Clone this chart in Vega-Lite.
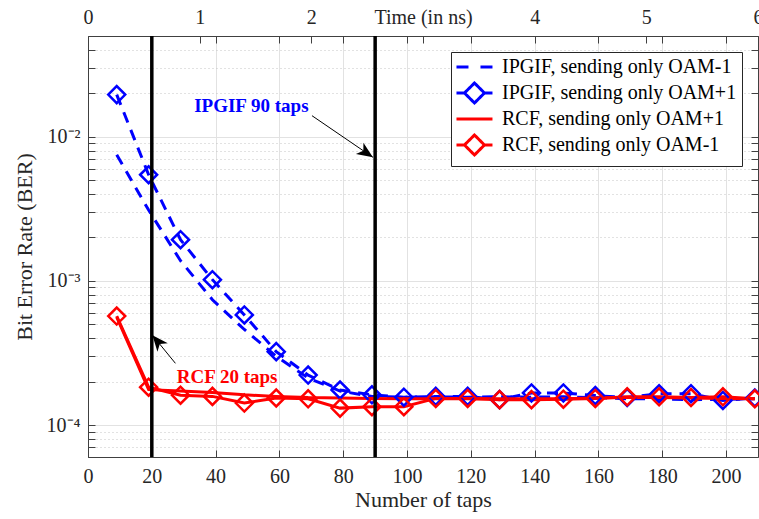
{
  "$schema": "https://vega.github.io/schema/vega-lite/v6.json",
  "width": 670,
  "height": 421,
  "autosize": {"type": "none"},
  "padding": {"left": 88, "top": 36, "right": 1, "bottom": 62},
  "background": "white",
  "config": {
    "view": {"stroke": null},
    "font": "Liberation Serif",
    "axis": {
      "labelFont": "Liberation Serif",
      "titleFont": "Liberation Serif",
      "labelColor": "#262626",
      "titleColor": "#262626",
      "titleFontWeight": "normal",
      "domainColor": "#404040",
      "tickColor": "#404040",
      "domainWidth": 1,
      "tickWidth": 1
    }
  },
  "datasets": {
    "curves": [
      {"taps": 9, "ber": 0.0075, "series": "IPGIF, sending only OAM-1"},
      {"taps": 19, "ber": 0.0031, "series": "IPGIF, sending only OAM-1"},
      {"taps": 29, "ber": 0.00138, "series": "IPGIF, sending only OAM-1"},
      {"taps": 39, "ber": 0.00074, "series": "IPGIF, sending only OAM-1"},
      {"taps": 49, "ber": 0.00046, "series": "IPGIF, sending only OAM-1"},
      {"taps": 59, "ber": 0.0003, "series": "IPGIF, sending only OAM-1"},
      {"taps": 69, "ber": 0.000212, "series": "IPGIF, sending only OAM-1"},
      {"taps": 79, "ber": 0.000172, "series": "IPGIF, sending only OAM-1"},
      {"taps": 89, "ber": 0.000158, "series": "IPGIF, sending only OAM-1"},
      {"taps": 99, "ber": 0.000156, "series": "IPGIF, sending only OAM-1"},
      {"taps": 109, "ber": 0.000157, "series": "IPGIF, sending only OAM-1"},
      {"taps": 119, "ber": 0.000156, "series": "IPGIF, sending only OAM-1"},
      {"taps": 129, "ber": 0.000157, "series": "IPGIF, sending only OAM-1"},
      {"taps": 139, "ber": 0.000156, "series": "IPGIF, sending only OAM-1"},
      {"taps": 149, "ber": 0.000157, "series": "IPGIF, sending only OAM-1"},
      {"taps": 159, "ber": 0.000155, "series": "IPGIF, sending only OAM-1"},
      {"taps": 169, "ber": 0.000152, "series": "IPGIF, sending only OAM-1"},
      {"taps": 179, "ber": 0.000152, "series": "IPGIF, sending only OAM-1"},
      {"taps": 189, "ber": 0.00015, "series": "IPGIF, sending only OAM-1"},
      {"taps": 199, "ber": 0.000151, "series": "IPGIF, sending only OAM-1"},
      {"taps": 209, "ber": 0.000152, "series": "IPGIF, sending only OAM-1"},
      {"taps": 9, "ber": 0.0196, "series": "IPGIF, sending only OAM+1"},
      {"taps": 19, "ber": 0.00545, "series": "IPGIF, sending only OAM+1"},
      {"taps": 29, "ber": 0.00193, "series": "IPGIF, sending only OAM+1"},
      {"taps": 39, "ber": 0.00102, "series": "IPGIF, sending only OAM+1"},
      {"taps": 49, "ber": 0.00058, "series": "IPGIF, sending only OAM+1"},
      {"taps": 59, "ber": 0.000323, "series": "IPGIF, sending only OAM+1"},
      {"taps": 69, "ber": 0.000222, "series": "IPGIF, sending only OAM+1"},
      {"taps": 79, "ber": 0.000175, "series": "IPGIF, sending only OAM+1"},
      {"taps": 89, "ber": 0.000162, "series": "IPGIF, sending only OAM+1"},
      {"taps": 99, "ber": 0.000156, "series": "IPGIF, sending only OAM+1"},
      {"taps": 109, "ber": 0.000158, "series": "IPGIF, sending only OAM+1"},
      {"taps": 119, "ber": 0.000158, "series": "IPGIF, sending only OAM+1"},
      {"taps": 129, "ber": 0.00015, "series": "IPGIF, sending only OAM+1"},
      {"taps": 139, "ber": 0.000167, "series": "IPGIF, sending only OAM+1"},
      {"taps": 149, "ber": 0.000167, "series": "IPGIF, sending only OAM+1"},
      {"taps": 159, "ber": 0.00016, "series": "IPGIF, sending only OAM+1"},
      {"taps": 169, "ber": 0.000155, "series": "IPGIF, sending only OAM+1"},
      {"taps": 179, "ber": 0.000165, "series": "IPGIF, sending only OAM+1"},
      {"taps": 189, "ber": 0.000165, "series": "IPGIF, sending only OAM+1"},
      {"taps": 199, "ber": 0.000148, "series": "IPGIF, sending only OAM+1"},
      {"taps": 209, "ber": 0.000154, "series": "IPGIF, sending only OAM+1"},
      {"taps": 9, "ber": 0.00056, "series": "RCF, sending only OAM+1"},
      {"taps": 19, "ber": 0.000176, "series": "RCF, sending only OAM+1"},
      {"taps": 29, "ber": 0.000172, "series": "RCF, sending only OAM+1"},
      {"taps": 39, "ber": 0.000168, "series": "RCF, sending only OAM+1"},
      {"taps": 49, "ber": 0.000162, "series": "RCF, sending only OAM+1"},
      {"taps": 59, "ber": 0.000158, "series": "RCF, sending only OAM+1"},
      {"taps": 69, "ber": 0.000155, "series": "RCF, sending only OAM+1"},
      {"taps": 79, "ber": 0.000154, "series": "RCF, sending only OAM+1"},
      {"taps": 89, "ber": 0.000153, "series": "RCF, sending only OAM+1"},
      {"taps": 99, "ber": 0.000152, "series": "RCF, sending only OAM+1"},
      {"taps": 109, "ber": 0.000152, "series": "RCF, sending only OAM+1"},
      {"taps": 119, "ber": 0.000153, "series": "RCF, sending only OAM+1"},
      {"taps": 129, "ber": 0.000152, "series": "RCF, sending only OAM+1"},
      {"taps": 139, "ber": 0.000152, "series": "RCF, sending only OAM+1"},
      {"taps": 149, "ber": 0.000152, "series": "RCF, sending only OAM+1"},
      {"taps": 159, "ber": 0.000154, "series": "RCF, sending only OAM+1"},
      {"taps": 169, "ber": 0.000155, "series": "RCF, sending only OAM+1"},
      {"taps": 179, "ber": 0.000155, "series": "RCF, sending only OAM+1"},
      {"taps": 189, "ber": 0.000154, "series": "RCF, sending only OAM+1"},
      {"taps": 199, "ber": 0.000153, "series": "RCF, sending only OAM+1"},
      {"taps": 209, "ber": 0.000152, "series": "RCF, sending only OAM+1"},
      {"taps": 9, "ber": 0.00057, "series": "RCF, sending only OAM-1"},
      {"taps": 19, "ber": 0.000183, "series": "RCF, sending only OAM-1"},
      {"taps": 29, "ber": 0.000161, "series": "RCF, sending only OAM-1"},
      {"taps": 39, "ber": 0.000158, "series": "RCF, sending only OAM-1"},
      {"taps": 49, "ber": 0.000142, "series": "RCF, sending only OAM-1"},
      {"taps": 59, "ber": 0.000154, "series": "RCF, sending only OAM-1"},
      {"taps": 69, "ber": 0.000152, "series": "RCF, sending only OAM-1"},
      {"taps": 79, "ber": 0.000131, "series": "RCF, sending only OAM-1"},
      {"taps": 89, "ber": 0.000134, "series": "RCF, sending only OAM-1"},
      {"taps": 99, "ber": 0.000134, "series": "RCF, sending only OAM-1"},
      {"taps": 109, "ber": 0.000153, "series": "RCF, sending only OAM-1"},
      {"taps": 119, "ber": 0.000153, "series": "RCF, sending only OAM-1"},
      {"taps": 129, "ber": 0.00015, "series": "RCF, sending only OAM-1"},
      {"taps": 139, "ber": 0.00015, "series": "RCF, sending only OAM-1"},
      {"taps": 149, "ber": 0.000151, "series": "RCF, sending only OAM-1"},
      {"taps": 159, "ber": 0.000153, "series": "RCF, sending only OAM-1"},
      {"taps": 169, "ber": 0.000157, "series": "RCF, sending only OAM-1"},
      {"taps": 179, "ber": 0.000157, "series": "RCF, sending only OAM-1"},
      {"taps": 189, "ber": 0.000155, "series": "RCF, sending only OAM-1"},
      {"taps": 199, "ber": 0.000157, "series": "RCF, sending only OAM-1"},
      {"taps": 209, "ber": 0.000152, "series": "RCF, sending only OAM-1"}
    ]
  },
  "layer": [
    {
      "data": {"name": "curves"},
      "transform": [{"filter": "indexof(datum.series, 'IPGIF') == 0"}],
      "mark": {"type": "line", "strokeWidth": 3, "strokeDash": [11, 8]},
      "encoding": {
        "x": {
          "field": "taps", "type": "quantitative",
          "scale": {"domain": [0, 210], "nice": false, "zero": false},
          "axis": {
            "orient": "bottom",
            "values": [0, 20, 40, 60, 80, 100, 120, 140, 160, 180, 200],
            "format": "d",
            "title": "Number of taps",
            "titleFontSize": 22,
            "titlePadding": 3,
            "labelFontSize": 20,
            "tickSize": -7,
            "labelPadding": 16,
            "labelFlush": false,
            "labelOverlap": false,
            "grid": true,
            "gridColor": "#e2e2e2",
            "gridWidth": 1
          }
        },
        "y": {
          "field": "ber", "type": "quantitative",
          "scale": {"type": "log", "domain": [0.00006, 0.05], "nice": false},
          "axis": {
            "orient": "left",
            "values": [0.00006, 0.00007, 0.00008, 0.00009, 0.0001, 0.0002, 0.0003, 0.0004, 0.0005, 0.0006, 0.0007, 0.0008, 0.0009, 0.001, 0.002, 0.003, 0.004, 0.005, 0.006, 0.007, 0.008, 0.009, 0.01, 0.02, 0.03, 0.04, 0.05],
            "labelExpr": "datum.value == 0.01 ? '10⁻²' : datum.value == 0.001 ? '10⁻³' : datum.value == 0.0001 ? '10⁻⁴' : ''",
            "title": "Bit Error Rate (BER)",
            "titleFontSize": 22,
            "titlePadding": 10,
            "labelFontSize": 20,
            "tickSize": -7,
            "labelPadding": 15,
            "labelOverlap": false,
            "labelFlush": false,
            "grid": true,
            "gridColor": {"condition": {"test": "datum.value == 0.01 || datum.value == 0.001 || datum.value == 0.0001", "value": "#e2e2e2"}, "value": "#c4c4c4"},
            "gridDash": {"condition": {"test": "datum.value == 0.01 || datum.value == 0.001 || datum.value == 0.0001", "value": []}, "value": [1, 3]}
          }
        },
        "color": {
          "field": "series", "type": "nominal",
          "scale": {
            "domain": ["IPGIF, sending only OAM-1", "IPGIF, sending only OAM+1", "RCF, sending only OAM+1", "RCF, sending only OAM-1"],
            "range": ["#0000ff", "#0000ff", "#ff0000", "#ff0000"]
          },
          "legend": {
            "title": null,
            "orient": "top-right",
            "offset": 16,
            "labelFont": "Liberation Serif",
            "labelFontSize": 20,
            "labelColor": "black",
            "labelLimit": 400,
            "symbolSize": 256,
            "symbolStrokeWidth": 3,
            "symbolType": "M-1.19,0H3.31",
            "labelOffset": 26,
            "rowPadding": 0,
            "padding": 5,
            "strokeColor": "#262626",
            "fillColor": "white",
            "encode": {
              "symbols": {
                "update": {
                  "shape": {"signal": "datum.value == 'IPGIF, sending only OAM+1' || datum.value == 'RCF, sending only OAM-1' ? 'M-1.19,0H-0.19M2.31,0H3.31M1.06,-1.25L2.31,0L1.06,1.25L-0.19,0Z' : 'M-1.19,0H3.31'"},
                  "strokeDash": {"signal": "datum.value == 'IPGIF, sending only OAM-1' ? [12, 12] : [1, 0]"},
                  "fill": {"value": "white"},
                  "strokeWidth": {"value": 3},
                  "opacity": {"value": 1}
                }
              }
            }
          }
        }
      }
    },
    {
      "data": {"name": "curves"},
      "transform": [{"filter": "indexof(datum.series, 'RCF') == 0"}],
      "mark": {"type": "line", "strokeWidth": 3},
      "encoding": {
        "x": {"field": "taps", "type": "quantitative", "scale": {"domain": [0, 210], "nice": false, "zero": false}, "axis": null},
        "y": {"field": "ber", "type": "quantitative", "scale": {"type": "log", "domain": [0.00006, 0.05], "nice": false}, "axis": null},
        "color": {
          "field": "series", "type": "nominal",
          "scale": {
            "domain": ["IPGIF, sending only OAM-1", "IPGIF, sending only OAM+1", "RCF, sending only OAM+1", "RCF, sending only OAM-1"],
            "range": ["#0000ff", "#0000ff", "#ff0000", "#ff0000"]
          },
          "legend": null
        }
      }
    },
    {
      "data": {"name": "curves"},
      "transform": [{"filter": "datum.series == 'IPGIF, sending only OAM+1' || datum.series == 'RCF, sending only OAM-1'"}],
      "mark": {"type": "point", "shape": "diamond", "size": 289, "strokeWidth": 2.5, "filled": false, "opacity": 1},
      "encoding": {
        "x": {
          "field": "taps", "type": "quantitative",
          "scale": {"domain": [0, 210], "nice": false, "zero": false},
          "axis": {
            "orient": "top",
            "values": [0, 20, 35, 40, 60, 70, 80, 100, 105, 120, 140, 160, 175, 180, 200, 210],
            "labelExpr": "datum.value == 0 ? '0' : datum.value == 35 ? '1' : datum.value == 70 ? '2' : datum.value == 105 ? 'Time (in ns)' : datum.value == 140 ? '4' : datum.value == 175 ? '5' : datum.value == 210 ? '6' : ''",
            "title": null,
            "labelFontSize": 20,
            "tickSize": -7,
            "labelPadding": 16,
            "labelFlush": false,
            "labelOverlap": false,
            "labelBound": false,
            "grid": false
          }
        },
        "y": {
          "field": "ber", "type": "quantitative",
          "scale": {"type": "log", "domain": [0.00006, 0.05], "nice": false},
          "axis": {
            "orient": "right",
            "values": [0.00006, 0.00007, 0.00008, 0.00009, 0.0001, 0.0002, 0.0003, 0.0004, 0.0005, 0.0006, 0.0007, 0.0008, 0.0009, 0.001, 0.002, 0.003, 0.004, 0.005, 0.006, 0.007, 0.008, 0.009, 0.01, 0.02, 0.03, 0.04, 0.05],
            "labels": false,
            "title": null,
            "tickSize": -7,
            "grid": false
          }
        },
        "color": {
          "field": "series", "type": "nominal",
          "scale": {
            "domain": ["IPGIF, sending only OAM-1", "IPGIF, sending only OAM+1", "RCF, sending only OAM+1", "RCF, sending only OAM-1"],
            "range": ["#0000ff", "#0000ff", "#ff0000", "#ff0000"]
          },
          "legend": null
        }
      }
    },
    {
      "data": {"values": [{"taps": 20}, {"taps": 90}]},
      "mark": {"type": "rule", "strokeWidth": 3.5, "color": "black"},
      "encoding": {
        "x": {"field": "taps", "type": "quantitative", "scale": {"domain": [0, 210], "nice": false, "zero": false}, "axis": null}
      }
    },
    {
      "data": {"values": [
        {"x1": 70.2, "y1": 0.014, "x2": 89.3, "y2": 0.0072},
        {"x1": 27.4, "y1": 0.000268, "x2": 20.2, "y2": 0.00042}
      ]},
      "mark": {"type": "rule", "strokeWidth": 1, "color": "black"},
      "encoding": {
        "x": {"field": "x1", "type": "quantitative", "scale": {"domain": [0, 210], "nice": false, "zero": false}, "axis": null},
        "y": {"field": "y1", "type": "quantitative", "scale": {"type": "log", "domain": [0.00006, 0.05], "nice": false}, "axis": null},
        "x2": {"field": "x2"},
        "y2": {"field": "y2"}
      }
    },
    {
      "data": {"values": [{"x2": 89.3, "y2": 0.0072}]},
      "mark": {"type": "point", "shape": "M0,0L-1,-0.42L-0.72,0L-1,0.42Z", "size": 1024, "angle": 34, "filled": true, "color": "black", "opacity": 1},
      "encoding": {
        "x": {"field": "x2", "type": "quantitative", "scale": {"domain": [0, 210], "nice": false, "zero": false}, "axis": null},
        "y": {"field": "y2", "type": "quantitative", "scale": {"type": "log", "domain": [0.00006, 0.05], "nice": false}, "axis": null}
      }
    },
    {
      "data": {"values": [{"x2": 20.2, "y2": 0.00042}]},
      "mark": {"type": "point", "shape": "M0,0L-1,-0.42L-0.72,0L-1,0.42Z", "size": 1024, "angle": 230.5, "filled": true, "color": "black", "opacity": 1},
      "encoding": {
        "x": {"field": "x2", "type": "quantitative", "scale": {"domain": [0, 210], "nice": false, "zero": false}, "axis": null},
        "y": {"field": "y2", "type": "quantitative", "scale": {"type": "log", "domain": [0.00006, 0.05], "nice": false}, "axis": null}
      }
    },
    {
      "data": {"values": [{"taps": 51.2, "ber": 0.0164, "label": "IPGIF 90 taps"}]},
      "mark": {"type": "text", "font": "Liberation Serif", "fontSize": 19, "fontWeight": "bold", "color": "#0000ff"},
      "encoding": {
        "x": {"field": "taps", "type": "quantitative", "scale": {"domain": [0, 210], "nice": false, "zero": false}, "axis": null},
        "y": {"field": "ber", "type": "quantitative", "scale": {"type": "log", "domain": [0.00006, 0.05], "nice": false}, "axis": null},
        "text": {"field": "label"}
      }
    },
    {
      "data": {"values": [{"taps": 43.6, "ber": 0.000216, "label": "RCF 20 taps"}]},
      "mark": {"type": "text", "font": "Liberation Serif", "fontSize": 19, "fontWeight": "bold", "color": "#ff0000"},
      "encoding": {
        "x": {"field": "taps", "type": "quantitative", "scale": {"domain": [0, 210], "nice": false, "zero": false}, "axis": null},
        "y": {"field": "ber", "type": "quantitative", "scale": {"type": "log", "domain": [0.00006, 0.05], "nice": false}, "axis": null},
        "text": {"field": "label"}
      }
    }
  ],
  "resolve": {"axis": {"x": "independent", "y": "independent"}}
}
